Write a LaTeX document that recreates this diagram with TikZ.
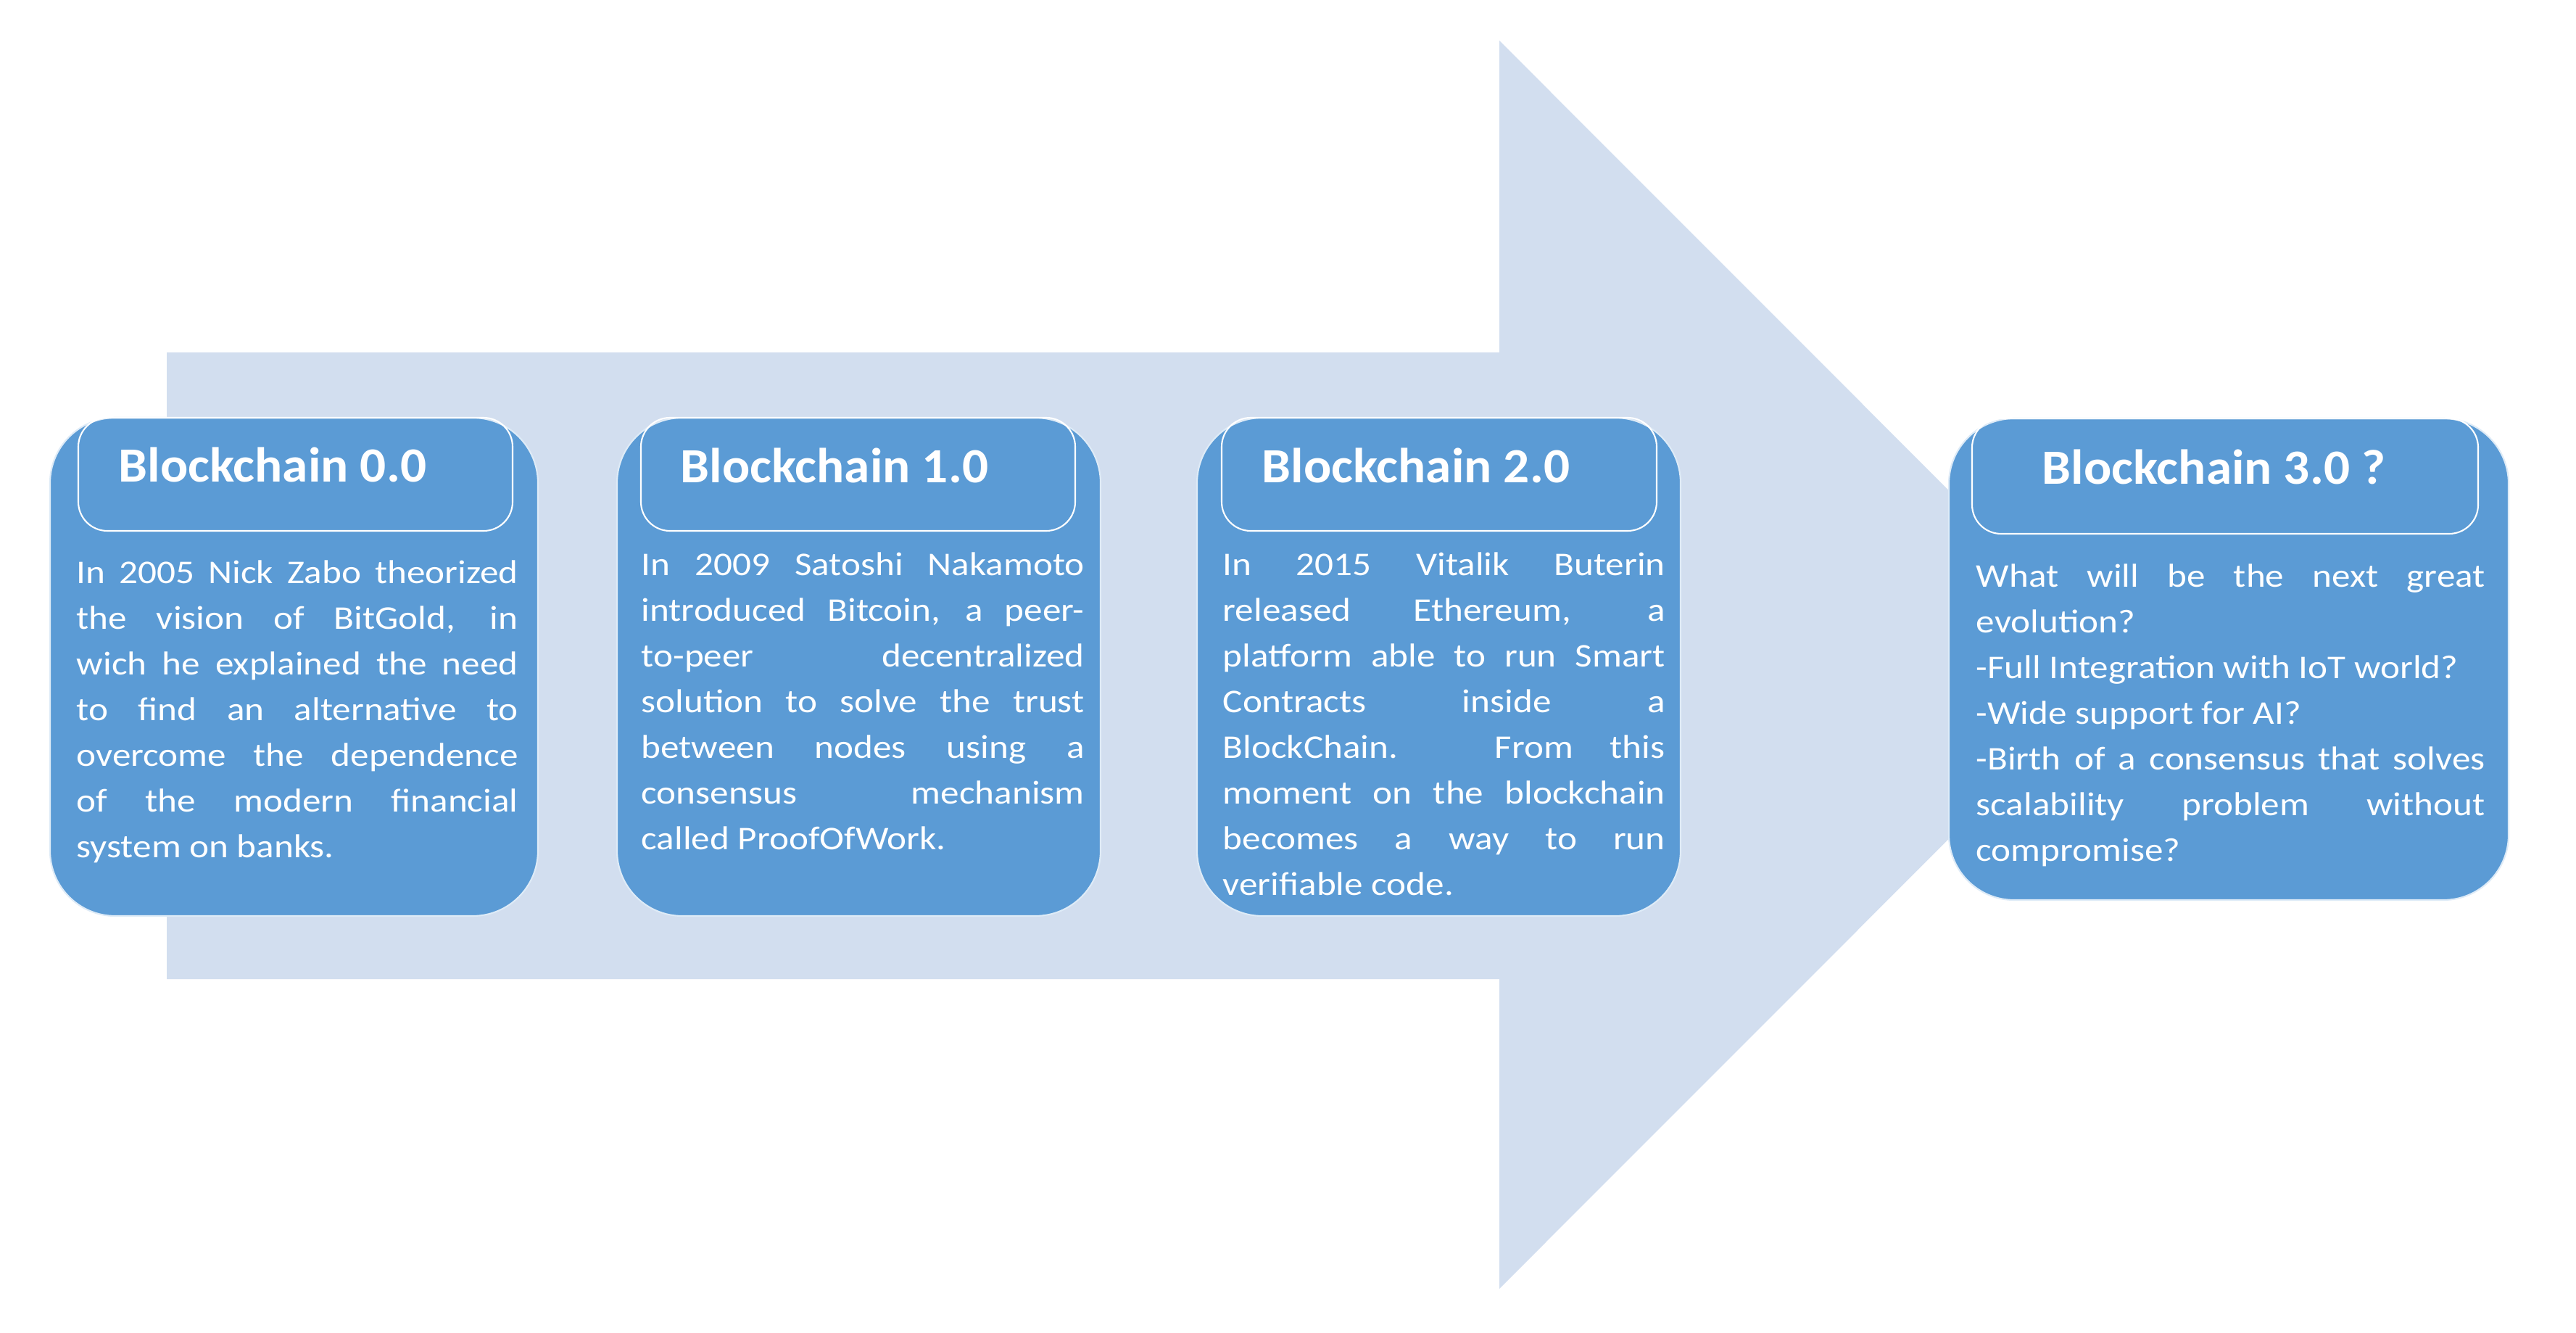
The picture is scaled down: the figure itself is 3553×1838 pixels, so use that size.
\documentclass[tikz,border=0pt]{standalone}
\usepackage{fontspec}
\setmainfont{Carlito}[FakeStretch=1.12]
\newfontfamily\headfont{Carlito}[FakeStretch=1.05]
\tolerance=10000
\hbadness=10000

\definecolor{arrowblue}{RGB}{210,222,239}
\definecolor{boxblue}{RGB}{91,155,213}
\definecolor{boxedge}{RGB}{222,235,247}

\tikzset{
  blockbox/.style={draw=boxedge,line width=0.6pt,fill=boxblue,rounded corners=9mm,inner sep=0pt},
  headbox/.style={draw=white,line width=0.6pt,rounded corners=4mm,inner sep=0pt},
  headtext/.style={anchor=base west,inner sep=0pt,text=white,font=\headfont\bfseries\fontsize{19.3}{23}\selectfont},
  bodytext/.style={anchor=north west,inner sep=0pt,text=white,align=justify,font=\fontsize{13}{17.93}\selectfont}
}

\begin{document}
\begin{tikzpicture}[x=0.1mm,y=-0.1mm]
    \useasboundingbox (0,0) rectangle (3553,1838);
    \fill[white] (0,0) rectangle (3553,1838);
    % the big arrow behind
    \fill[arrowblue] (230,486) -- (2068,486) -- (2068,56) -- (2928,916.5) -- (2068,1777) -- (2068,1350) -- (230,1350) -- cycle;
    % blocks
    \node[blockbox,minimum width=67.3mm,minimum height=68.7mm] (b0) at (405.5,919.5) {};
    \node[blockbox,minimum width=66.7mm,minimum height=68.7mm] (b1) at (1184.5,919.5) {};
    \node[blockbox,minimum width=66.7mm,minimum height=68.7mm] (b2) at (1984.5,919.5) {};
    \node[blockbox,minimum width=77.2mm,minimum height=66.4mm] (b3) at (3074,909) {};
    % headers
    \node[headbox,minimum width=59.9mm,minimum height=15.6mm] (h0) at (407.5,654) {};
    \node[headbox,minimum width=59.9mm,minimum height=15.6mm] (h1) at (1183.5,654) {};
    \node[headbox,minimum width=60mm,minimum height=15.6mm] (h2) at (1985,654) {};
    \node[headbox,minimum width=69.8mm,minimum height=15.9mm] (h3) at (3069,656.5) {};
    \node[headtext] (title0) at (163,665) {Blockchain 0.0};
    \node[headtext] (title1) at (938,666) {Blockchain 1.0};
    \node[headtext] (title2) at (1740,666) {Blockchain 2.0};
    \node[headtext] (title3) at (2816,668) {Blockchain 3.0 ?};
    % texts
    \node[bodytext,text width=60.9mm] (text0) at (105,760) {\strut In 2005 Nick Zabo theorized\linebreak the vision of BitGold, in\linebreak wich he explained the need\linebreak to find an alternative to\linebreak overcome the dependence\linebreak of the modern financial\linebreak system on banks.};
    \node[bodytext,text width=61.1mm] (text1) at (884,749) {\strut In 2009 Satoshi Nakamoto\linebreak introduced Bitcoin, a peer-\linebreak to-peer decentralized\linebreak solution to solve the trust\linebreak between nodes using a\linebreak consensus mechanism\linebreak called ProofOfWork.};
    \node[bodytext,text width=61mm] (text2) at (1686,749) {\strut In 2015 Vitalik Buterin\linebreak released Ethereum, a\linebreak platform able to run Smart\linebreak Contracts inside a\linebreak BlockChain. From this\linebreak moment on the blockchain\linebreak becomes a way to run\linebreak verifiable code.};
    \node[bodytext,text width=70.2mm] (text3) at (2725,765) {\strut What will be the next great\linebreak evolution?\\-Full Integration with IoT world?\\-Wide support for AI?\\-Birth of a consensus that solves\linebreak scalability problem without\linebreak compromise?};
\end{tikzpicture}
\end{document}
